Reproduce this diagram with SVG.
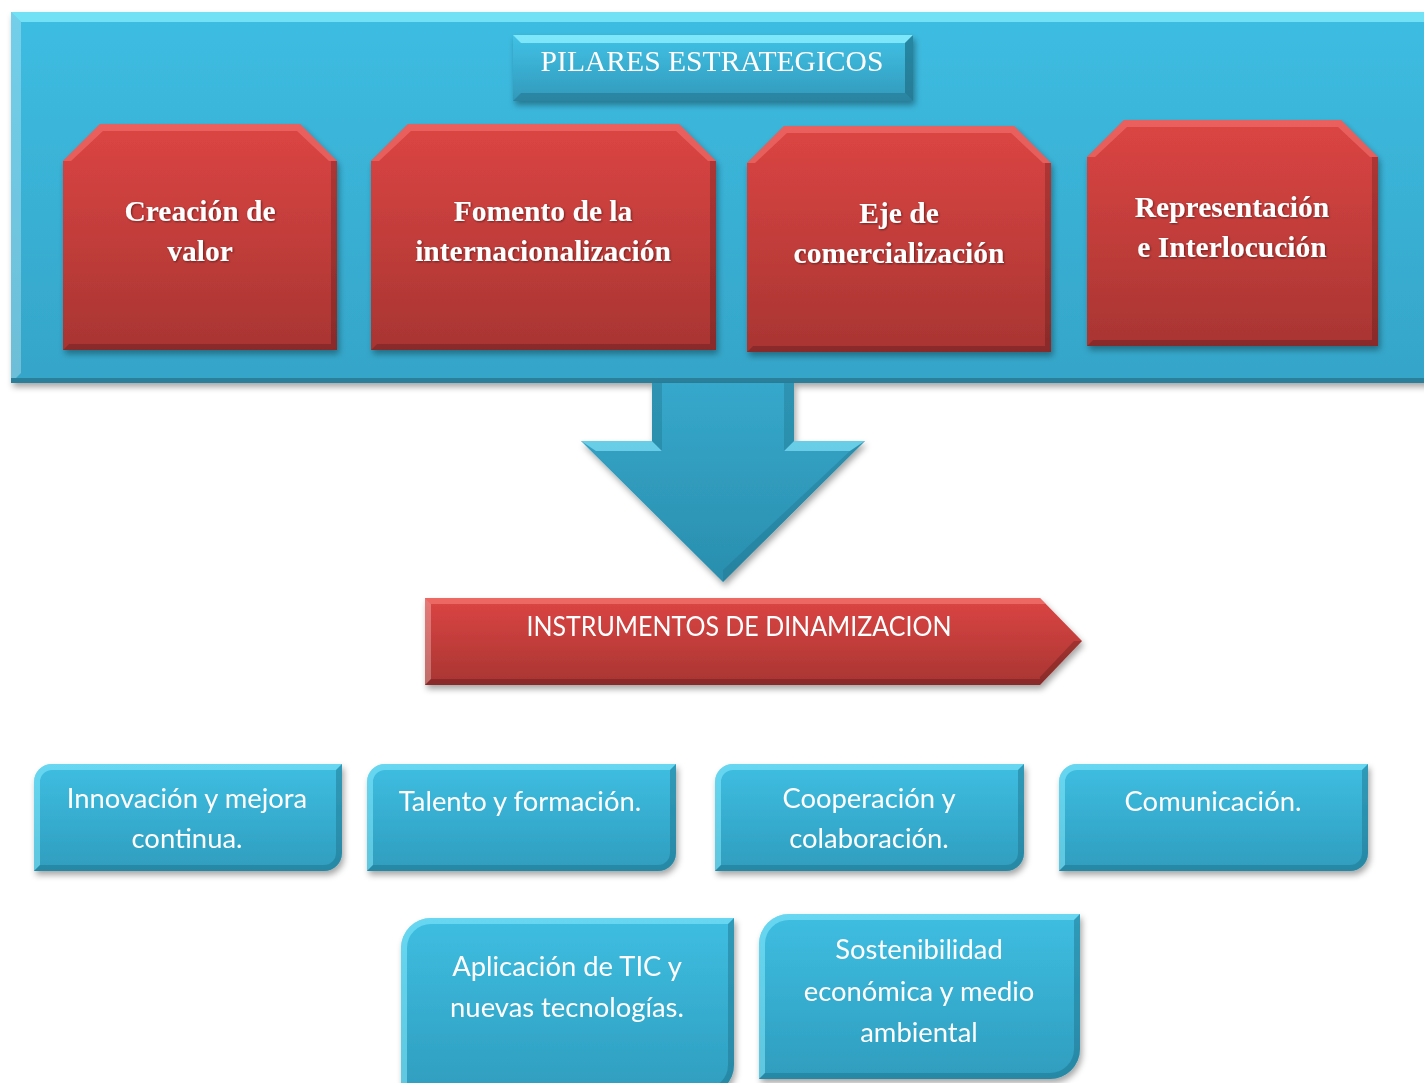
<svg xmlns="http://www.w3.org/2000/svg" width="1424" height="1083" viewBox="0 0 1424 1083">
<style>
.serif{font-family:"Liberation Serif","Times New Roman",serif;fill:#fff;text-anchor:middle}
.bold{font-weight:bold;font-size:29.5px}
.sans{font-family:Lato,"Liberation Sans",sans-serif;fill:#fff;text-anchor:middle;font-size:27.4px}
.hi{fill:#ffffff;opacity:.28}
.dk{fill:#000;opacity:.18}
</style>
<defs>
<linearGradient id="gBan" x1="0" y1="0" x2="0" y2="1"><stop offset="0" stop-color="#3dbde2"/><stop offset="1" stop-color="#35a5c8"/></linearGradient>
<linearGradient id="gRed" x1="0" y1="0" x2="0" y2="1"><stop offset="0" stop-color="#dc4543"/><stop offset="1" stop-color="#a83532"/></linearGradient>
<linearGradient id="gBlue" x1="0" y1="0" x2="0" y2="1"><stop offset="0" stop-color="#3ebee2"/><stop offset="1" stop-color="#2f9dbe"/></linearGradient>
<linearGradient id="gArr" x1="0" y1="0" x2="0" y2="1"><stop offset="0" stop-color="#36a8cb"/><stop offset="1" stop-color="#2a8eae"/></linearGradient>
<linearGradient id="gPil" x1="0" y1="0" x2="0" y2="1"><stop offset="0" stop-color="#40c2e6"/><stop offset="1" stop-color="#3299bb"/></linearGradient>
<filter id="sh" x="-10%" y="-10%" width="120%" height="130%"><feDropShadow dx="2" dy="4" stdDeviation="3" flood-color="#000" flood-opacity=".35"/></filter>
<filter id="ts" x="-5%" y="-20%" width="110%" height="140%"><feDropShadow dx="1" dy="1" stdDeviation="0.8" flood-color="#000" flood-opacity=".45"/></filter>
</defs>

<g id="banner" filter="url(#sh)">
<rect x="11" y="12" width="1430" height="371" fill="url(#gBan)"/>
<path d="M11,12 H1441 V22 H21 Z" fill="#7fe9fa" opacity=".8"/>
<path d="M11,12 L21,22 V373 L11,383 Z" class="hi"/>
<rect x="11" y="378" width="1430" height="5" fill="#2a7f9b"/>
</g>

<g id="pilares" filter="url(#sh)">
<rect x="513" y="35" width="400" height="66" fill="url(#gPil)"/>
<path d="M513,35 H913 L905,43 H521 Z" fill="#8ff0ff" opacity=".8"/>
<path d="M913,35 V101 L905,93 V43 Z" fill="#1f6f88" opacity=".7"/>
<path d="M513,101 H913 L905,93 H521 Z" fill="#1f6f88" opacity=".5"/>
<text class="serif" x="712" y="71" font-size="29.6">PILARES ESTRATEGICOS</text>
</g>

<g id="pilar1" filter="url(#sh)">
<path d="M63,161 L100,124 L300,124 L337,161 V350 H63 Z" fill="url(#gRed)"/>
<path d="M63,161 L100,124 L300,124 L337,161 L329,161 L297,131 L103,131 L71,161 Z" fill="#ff8a86" opacity=".4"/>
<path d="M337,161 V350 L331,344 V161 Z" class="dk"/>
<path d="M63,350 H337 L331,344 H69 Z" class="dk"/>
<text class="serif bold" filter="url(#ts)"><tspan x="200" y="221">Creación de</tspan><tspan x="200" y="261">valor</tspan></text>
</g>

<g id="pilar2" filter="url(#sh)">
<path d="M371,161 L408,124 L679,124 L716,161 V350 H371 Z" fill="url(#gRed)"/>
<path d="M371,161 L408,124 L679,124 L716,161 L708,161 L676,131 L411,131 L379,161 Z" fill="#ff8a86" opacity=".4"/>
<path d="M716,161 V350 L710,344 V161 Z" class="dk"/>
<path d="M371,350 H716 L710,344 H377 Z" class="dk"/>
<text class="serif bold" filter="url(#ts)"><tspan x="543" y="221">Fomento de la</tspan><tspan x="543" y="261">internacionalización</tspan></text>
</g>

<g id="pilar3" filter="url(#sh)">
<path d="M747,163 L784,126 L1014,126 L1051,163 V352 H747 Z" fill="url(#gRed)"/>
<path d="M747,163 L784,126 L1014,126 L1051,163 L1043,163 L1011,133 L787,133 L755,163 Z" fill="#ff8a86" opacity=".4"/>
<path d="M1051,163 V352 L1045,346 V163 Z" class="dk"/>
<path d="M747,352 H1051 L1045,346 H753 Z" class="dk"/>
<text class="serif bold" filter="url(#ts)"><tspan x="899" y="223">Eje de</tspan><tspan x="899" y="263">comercialización</tspan></text>
</g>

<g id="pilar4" filter="url(#sh)">
<path d="M1087,157 L1124,120 L1341,120 L1378,157 V346 H1087 Z" fill="url(#gRed)"/>
<path d="M1087,157 L1124,120 L1341,120 L1378,157 L1370,157 L1338,127 L1127,127 L1095,157 Z" fill="#ff8a86" opacity=".4"/>
<path d="M1378,157 V346 L1372,340 V157 Z" class="dk"/>
<path d="M1087,346 H1378 L1372,340 H1093 Z" class="dk"/>
<text class="serif bold" filter="url(#ts)"><tspan x="1232" y="217">Representación</tspan><tspan x="1232" y="257">e Interlocución</tspan></text>
</g>

<g id="connectors">
<g id="downArrow" filter="url(#sh)">
<path d="M652,383 H794 V441 H865 L723,582 L581,441 H652 Z" fill="url(#gArr)"/>
<path d="M581,441 H652 L662,451 H596 Z" fill="#7fe0f5" opacity=".7"/>
<path d="M865,441 H794 L784,451 H850 Z" fill="#7fe0f5" opacity=".7"/>
<path d="M652,383 V441 L662,451 V383 Z" fill="#1f6f88" opacity=".35"/>
<path d="M794,383 V441 L784,451 V383 Z" fill="#1f6f88" opacity=".35"/>
<path d="M865,441 L723,582 L723,570 L850,451 Z" fill="#1f6f88" opacity=".35"/>
</g>
</g>

<g id="instrumentos" filter="url(#sh)">
<path d="M425,598 H1040 L1082,641 L1040,685 H425 Z" fill="url(#gRed)"/>
<path d="M425,598 H1040 L1046,604 H431 Z" fill="#ff8a86" opacity=".5"/>
<path d="M425,598 V685 L431,679 V604 Z" class="hi"/>
<path d="M1082,641 L1040,685 L1040,677 L1074,641 Z" class="dk"/>
<path d="M425,685 H1040 L1040,679 H431 Z" class="dk"/>
<text class="sans" x="739" y="636" font-size="26" textLength="425" lengthAdjust="spacingAndGlyphs">INSTRUMENTOS DE DINAMIZACION</text>
</g>

<g id="b1" filter="url(#sh)">
<path d="M52,764 H342 V853 A18,18 0 0 1 324,871 H34 V782 A18,18 0 0 1 52,764 Z" fill="url(#gBlue)"/>
<path d="M52,764 H342 L336,770 H52 A12,12 0 0 0 40,782 V865 L34,871 V782 A18,18 0 0 1 52,764 Z" fill="#8ff0ff" opacity=".5"/>
<path d="M342,764 V853 A18,18 0 0 1 324,871 H34 L40,865 H324 A12,12 0 0 0 336,853 V770 Z" fill="#1f6f88" opacity=".45"/>
<text class="sans"><tspan x="187" y="808">Innovación y mejora</tspan><tspan x="187" y="848">continua.</tspan></text>
</g>

<g id="b2" filter="url(#sh)">
<path d="M385,764 H676 V853 A18,18 0 0 1 658,871 H367 V782 A18,18 0 0 1 385,764 Z" fill="url(#gBlue)"/>
<path d="M385,764 H676 L670,770 H385 A12,12 0 0 0 373,782 V865 L367,871 V782 A18,18 0 0 1 385,764 Z" fill="#8ff0ff" opacity=".5"/>
<path d="M676,764 V853 A18,18 0 0 1 658,871 H367 L373,865 H658 A12,12 0 0 0 670,853 V770 Z" fill="#1f6f88" opacity=".45"/>
<text class="sans" x="520" y="811">Talento y formación.</text>
</g>

<g id="b3" filter="url(#sh)">
<path d="M733,764 H1024 V853 A18,18 0 0 1 1006,871 H715 V782 A18,18 0 0 1 733,764 Z" fill="url(#gBlue)"/>
<path d="M733,764 H1024 L1018,770 H733 A12,12 0 0 0 721,782 V865 L715,871 V782 A18,18 0 0 1 733,764 Z" fill="#8ff0ff" opacity=".5"/>
<path d="M1024,764 V853 A18,18 0 0 1 1006,871 H715 L721,865 H1006 A12,12 0 0 0 1018,853 V770 Z" fill="#1f6f88" opacity=".45"/>
<text class="sans"><tspan x="869" y="808">Cooperación y</tspan><tspan x="869" y="848">colaboración.</tspan></text>
</g>

<g id="b4" filter="url(#sh)">
<path d="M1077,764 H1368 V853 A18,18 0 0 1 1350,871 H1059 V782 A18,18 0 0 1 1077,764 Z" fill="url(#gBlue)"/>
<path d="M1077,764 H1368 L1362,770 H1077 A12,12 0 0 0 1065,782 V865 L1059,871 V782 A18,18 0 0 1 1077,764 Z" fill="#8ff0ff" opacity=".5"/>
<path d="M1368,764 V853 A18,18 0 0 1 1350,871 H1059 L1065,865 H1350 A12,12 0 0 0 1362,853 V770 Z" fill="#1f6f88" opacity=".45"/>
<text class="sans" x="1213" y="811">Comunicación.</text>
</g>

<g id="b5" filter="url(#sh)">
<path d="M431,918 H734 V1065 A30,30 0 0 1 704,1095 H401 V948 A30,30 0 0 1 431,918 Z" fill="url(#gBlue)"/>
<path d="M431,918 H734 L728,924 H431 A24,24 0 0 0 407,948 V1095 H401 V948 A30,30 0 0 1 431,918 Z" fill="#8ff0ff" opacity=".5"/>
<path d="M734,918 V1065 A30,30 0 0 1 704,1095 H700 V1089 H704 A24,24 0 0 0 728,1065 V924 Z" fill="#1f6f88" opacity=".45"/>
<text class="sans"><tspan x="567" y="976">Aplicación de TIC y</tspan><tspan x="567" y="1017">nuevas tecnologías.</tspan></text>
</g>

<g id="b6" filter="url(#sh)">
<path d="M789,914 H1080 V1049 A30,30 0 0 1 1050,1079 H759 V944 A30,30 0 0 1 789,914 Z" fill="url(#gBlue)"/>
<path d="M789,914 H1080 L1074,920 H789 A24,24 0 0 0 765,944 V1073 L759,1079 V944 A30,30 0 0 1 789,914 Z" fill="#8ff0ff" opacity=".5"/>
<path d="M1080,914 V1049 A30,30 0 0 1 1050,1079 H759 L765,1073 H1050 A24,24 0 0 0 1074,1049 V920 Z" fill="#1f6f88" opacity=".45"/>
<text class="sans"><tspan x="919" y="959">Sostenibilidad</tspan><tspan x="919" y="1001">económica y medio</tspan><tspan x="919" y="1042">ambiental</tspan></text>
</g>
</svg>
